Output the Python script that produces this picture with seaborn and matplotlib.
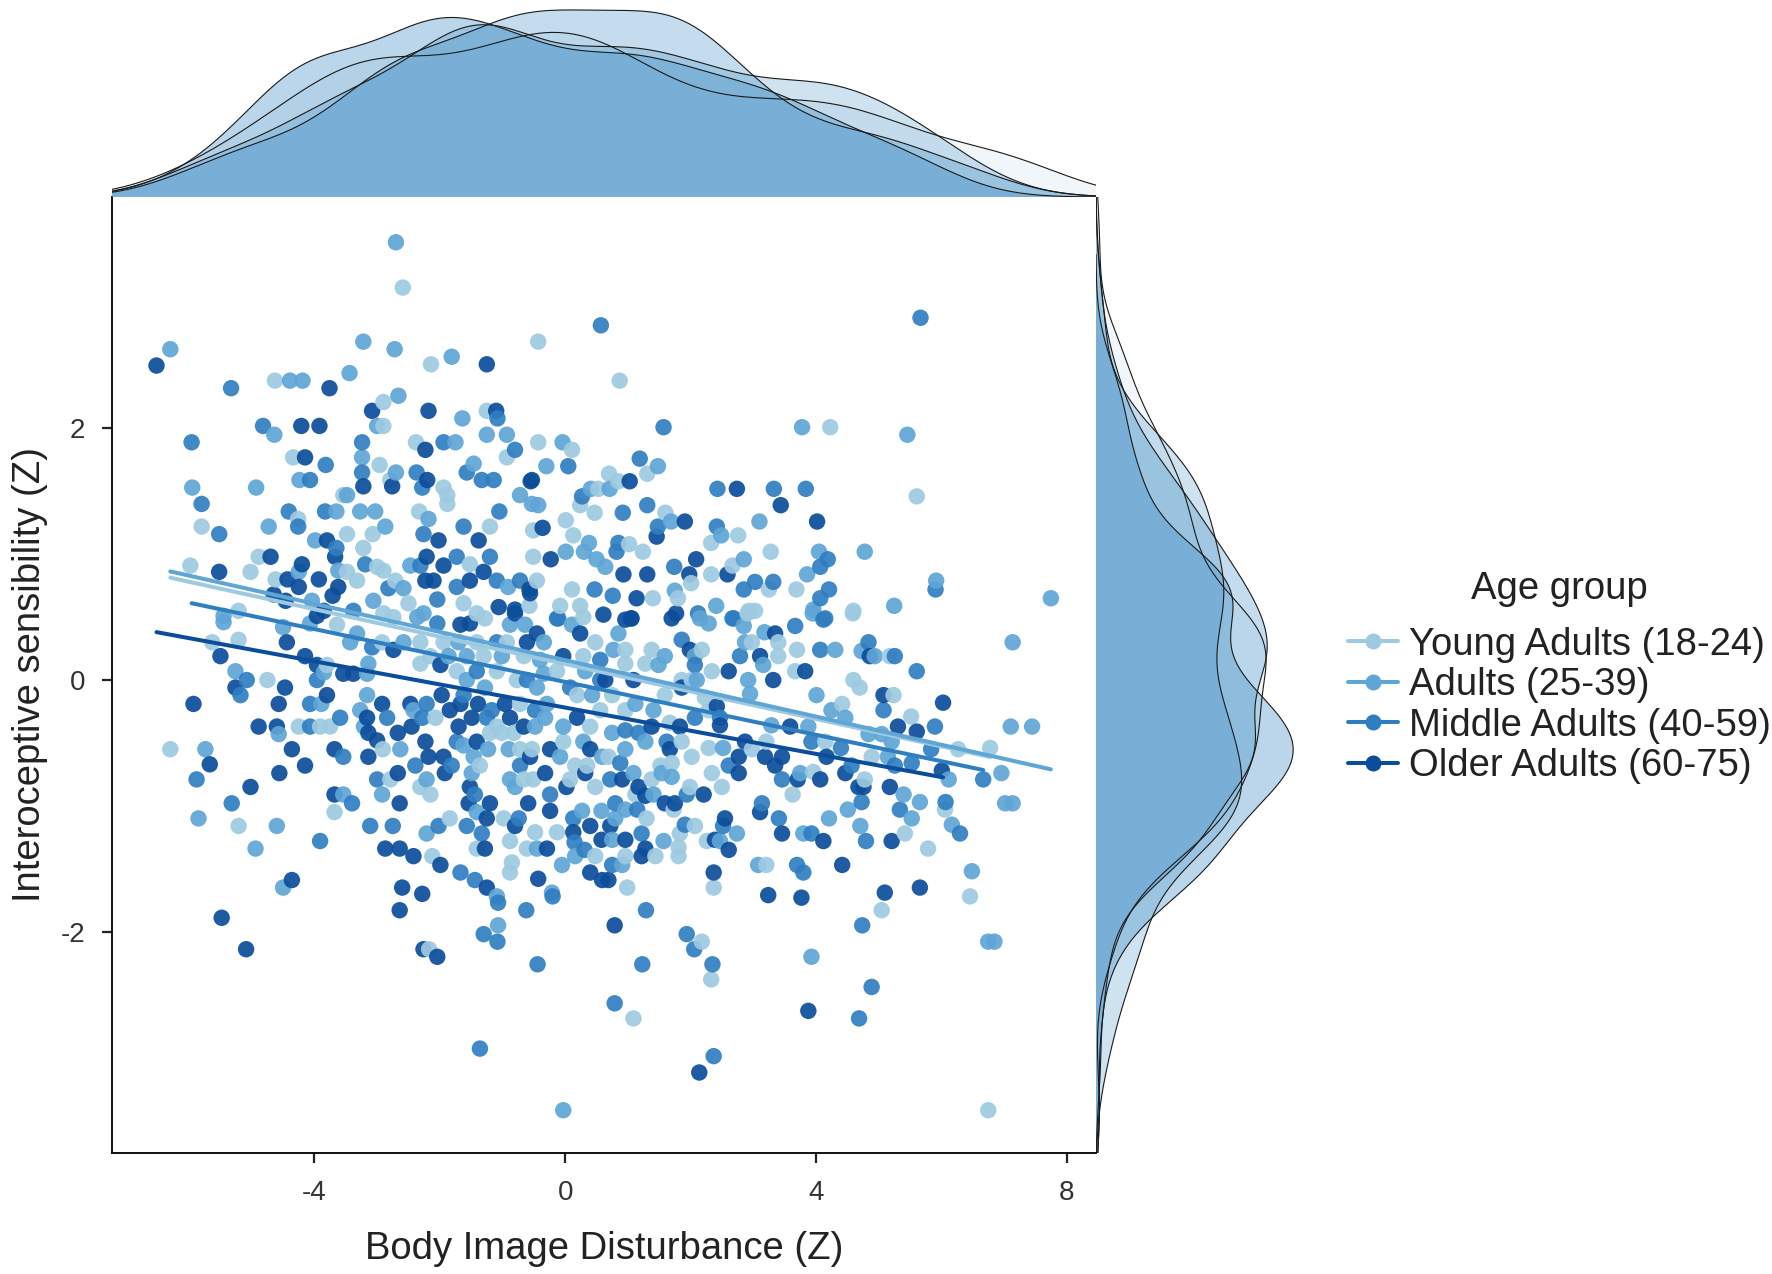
import numpy as np
import pandas as pd
import matplotlib
matplotlib.use("Agg")
import matplotlib.pyplot as plt
from matplotlib.lines import Line2D
from matplotlib.colors import to_rgba
import seaborn as sns

# ---------------- data ----------------
groups = ["Young Adults (18-24)", "Adults (25-39)",
          "Middle Adults (40-59)", "Older Adults (60-75)"]
point_colors = ["#9ecae1", "#5fa5d6", "#2f7ec1", "#0c4d9b"]

young_points = [
    (-2.59, 3.12), (-2.14, 2.51), (-0.43, 2.69), (-4.63, 2.38), (-2.90, 2.21), (-1.25, 2.14),
    (-2.90, 2.02), (-2.38, 1.89), (-0.93, 1.77), (-0.43, 1.89), (-4.34, 1.77), (-2.96, 1.71),
    (-2.79, 1.59), (-1.94, 1.53), (-3.54, 1.47), (-1.88, 1.47), (-1.88, 1.40), (-2.33, 1.34),
    (-5.80, 1.22), (-4.26, 1.28), (-3.48, 1.16), (-3.07, 1.16), (-1.20, 1.22), (-3.22, 1.05),
    (-5.98, 0.91), (-5.02, 0.86), (-4.89, 0.98), (-4.62, 0.80), (-3.48, 0.86), (-3.32, 0.79),
    (-3.00, 0.90), (-2.90, 0.87), (-2.71, 0.79), (-1.52, 0.92), (-0.51, 0.98), (-1.62, 0.61),
    (-1.41, 0.53), (-5.21, 0.55), (-2.90, 0.53), (-2.50, 0.61), (-0.45, 0.79), (-0.51, 1.19),
    (0.87, 2.38), (4.23, 2.01), (0.11, 1.83), (1.31, 1.64), (0.70, 1.64), (0.85, 1.58),
    (0.53, 1.52), (5.61, 1.46), (0.24, 1.39), (0.47, 1.33), (1.60, 1.33), (0.01, 1.27),
    (2.76, 1.15), (2.33, 1.09), (0.13, 1.15), (1.02, 1.08), (1.24, 1.02), (3.28, 1.02),
    (2.67, 0.91), (2.33, 0.84), (3.25, 0.72), (3.69, 0.72), (4.59, 0.53), (0.11, 0.72),
    (-0.57, 0.59), (-0.08, 0.59), (0.24, 0.59), (1.40, 0.65), (1.80, 0.65), (2.01, 0.77),
    (2.91, 0.53),
    (-6.30, -0.55), (-5.63, 0.30), (-5.21, 0.32), (-4.75, 0.00), (-4.25, -0.37), (-3.91, -0.37),
    (-3.75, -0.37), (-5.21, -1.16), (-3.68, -1.05), (-3.80, 0.12), (-3.64, 0.44), (-2.91, -0.55),
    (-2.79, -0.79), (-2.12, -1.40), (-1.84, -1.10), (-2.31, -0.85), (-2.15, -0.91), (-2.07, -0.30),
    (-1.36, -0.68), (-1.41, -1.34), (-0.98, -1.10), (-0.88, -1.28), (-0.85, -1.45), (-0.88, -1.53),
    (-0.61, -1.34), (-0.48, -1.21), (-0.13, -1.21), (0.48, -1.40), (-0.66, -0.79), (-0.51, -0.79),
    (0.08, -0.79), (0.48, -0.85), (-0.72, -0.55), (-0.53, -0.55), (0.16, -0.68), (0.35, -0.68),
    (-1.20, -0.42), (-1.01, -0.42), (-0.82, -0.42), (-1.09, -0.37), (-0.03, -0.49), (0.40, -0.37),
    (0.56, -0.24), (0.19, -0.12), (-0.72, -0.19), (-1.73, 0.07), (-1.09, 0.07), (-0.77, 0.00),
    (-0.13, 0.07), (-2.31, 0.13), (-2.15, 0.19), (-1.30, 0.19), (-0.66, 0.19), (0.29, 0.19),
    (-2.31, 0.30), (-1.94, 0.30), (-1.41, 0.30), (-0.93, 0.30), (0.48, 0.30), (-2.92, 0.30),
    (-2.74, 0.50), (-1.28, 0.49), (0.29, 0.50),
    (6.78, -0.54), (6.27, -0.55), (6.06, -1.03), (5.79, -1.34), (6.46, -1.72), (5.42, -1.22),
    (3.21, -1.47), (2.37, -1.65), (2.26, -1.28), (2.07, -1.16), (1.83, -1.22), (1.81, -1.33),
    (1.81, -1.40), (1.44, -1.40), (0.96, -1.40), (0.99, -1.65), (1.30, -1.10), (3.63, -0.91),
    (3.96, -0.73), (4.78, -0.79), (4.89, -0.61), (5.52, -0.29), (4.15, -0.49), (4.42, -0.19),
    (5.24, -0.12), (4.60, 0.00), (4.70, -0.06), (5.18, 0.19), (4.60, 0.55), (3.70, 0.24),
    (3.40, 0.19), (3.67, 0.07), (2.34, 0.07), (2.98, 0.30), (3.40, 0.30), (2.93, 0.55),
    (3.03, 0.55), (2.18, 0.24), (1.86, 0.00), (1.38, 0.24), (1.28, 0.13), (0.96, 0.24),
    (0.96, 0.13), (0.75, -0.12), (0.96, -0.24), (1.59, -0.12), (2.02, 0.00), (2.23, -0.14),
    (2.29, -0.24), (1.67, -0.34), (1.86, -0.49), (2.02, -0.61), (2.29, -0.54), (2.98, -0.55),
    (3.21, -0.49), (2.34, -0.74), (2.50, -0.85), (1.99, -0.85), (1.73, -1.03), (1.12, -0.91),
    (1.38, -0.79), (1.52, -0.68), (1.70, -0.66), (0.69, -0.61),
    (-2.17, -2.14), (5.05, -1.83), (2.18, -2.08), (2.33, -2.38), (1.09, -2.69), (6.75, -3.42),
]

adults_points = [
    (-2.70, 3.48), (-6.30, 2.63), (-3.22, 2.69), (-2.72, 2.63), (-1.81, 2.57), (-4.39, 2.38),
    (-4.19, 2.38), (-3.44, 2.44), (-2.66, 2.26), (-1.64, 2.08), (-4.64, 1.95), (-3.00, 2.02),
    (-1.25, 1.95), (-0.93, 1.95), (-1.75, 1.89), (-3.24, 1.77), (-2.70, 1.65), (-1.46, 1.72),
    (-5.95, 1.53), (-4.93, 1.53), (-4.24, 1.59), (-3.48, 1.47), (-0.72, 1.47), (-0.53, 1.40),
    (-3.65, 1.34), (-3.27, 1.34), (-3.03, 1.34), (-2.18, 1.28), (-4.73, 1.22), (-2.87, 1.22),
    (-3.99, 1.11),
    (-4.25, 0.86), (-3.62, 0.87), (-2.58, 0.73), (-2.47, 0.91), (-0.91, 0.74), (-2.26, 0.53),
    (-5.45, 0.51), (-4.04, 0.63), (-3.06, 0.63),
    (3.78, 2.01), (5.46, 1.95), (-0.04, 1.89), (-0.30, 1.70), (1.48, 1.70), (0.41, 1.52),
    (0.71, 1.52), (-0.43, 1.39), (1.69, 1.26), (3.10, 1.26), (2.49, 1.15), (0.38, 1.09),
    (4.05, 1.02), (4.78, 1.02), (0.01, 1.02), (0.30, 1.02), (0.50, 0.96), (0.64, 0.90),
    (2.85, 0.96), (3.86, 0.84), (5.92, 0.79), (5.25, 0.59), (7.75, 0.65), (1.75, 0.71),
    (2.41, 0.59), (3.95, 0.53),
    (-5.74, -0.55), (-5.45, 0.46), (-5.26, 0.07), (-4.50, 0.42), (-4.57, -0.43), (-5.85, -1.10),
    (-4.60, -1.16), (-4.94, -1.34), (-4.50, -1.65), (-3.54, -0.91), (-3.89, -0.19), (-3.85, 0.06),
    (-4.07, 0.45), (-3.16, 0.05), (-3.14, 0.13), (-3.43, 0.30), (-3.32, 0.37), (-3.16, -0.12),
    (-3.27, -0.24), (-3.21, -0.37), (-2.63, -0.55), (-2.92, -0.91), (-2.21, -1.22), (-2.21, -0.79),
    (-2.42, -0.24), (-1.62, -0.52), (-1.46, -0.61), (-1.49, -0.74), (-1.41, -1.05), (-1.09, -1.72),
    (-0.45, -1.34), (-0.21, -1.69), (-0.05, -1.47), (0.16, -1.40), (0.27, -1.04), (0.58, -1.04),
    (-0.88, -0.79), (-0.80, -0.85), (-0.90, -0.55), (-0.08, -0.61), (0.59, -0.61), (-1.23, -0.55),
    (-0.48, -0.37), (-0.32, -0.30), (-0.03, -0.37), (0.29, -0.49), (0.43, -0.12), (-0.29, -0.19),
    (-1.28, -0.06), (-1.57, 0.00), (-0.45, -0.06), (-0.34, 0.05), (0.32, 0.07), (-1.86, 0.19),
    (-1.57, 0.19), (-1.01, 0.19), (-0.40, 0.16), (-2.58, 0.30), (-1.70, 0.30), (-0.34, 0.30),
    (-2.36, 0.50), (-0.88, 0.44), (-0.64, 0.44), (0.11, 0.44),
    (7.14, 0.30), (7.11, -0.37), (7.45, -0.37), (6.96, -0.74), (6.12, -0.79), (7.02, -0.98),
    (7.14, -0.98), (6.17, -1.15), (6.49, -1.52), (5.53, -1.10), (5.40, -0.91), (5.66, -0.97),
    (4.51, -1.03), (4.71, -1.16), (4.21, -1.10), (3.80, -1.22), (3.08, -1.47), (2.74, -1.22),
    (2.47, -1.28), (1.57, -1.28), (0.91, -1.47), (0.75, -1.27), (0.80, -1.10), (3.75, -0.74),
    (5.15, -0.61), (5.05, -0.43), (4.84, -0.43), (5.21, -0.49), (3.88, -0.37), (4.47, -0.30),
    (4.25, -0.24), (4.01, -0.12), (4.73, 0.23), (4.94, 0.19), (4.31, 0.24), (3.96, 0.56),
    (2.92, 0.00), (2.10, 0.00), (2.95, -0.11), (3.16, 0.12), (2.87, 0.30), (3.18, 0.38),
    (2.85, 0.43), (2.15, 0.49), (2.29, 0.45), (2.07, 0.19), (1.59, 0.19), (1.49, 0.12),
    (0.85, 0.37), (0.77, 0.24), (1.12, -0.19), (1.41, -0.24), (0.75, -0.42), (1.28, -0.49),
    (2.52, -0.54), (3.29, -0.36), (1.70, -0.77), (1.54, -0.74), (1.41, -0.91), (1.09, -0.74),
    (0.96, -0.55), (0.96, -1.03),
    (-1.07, -1.95), (-0.03, -3.42), (3.93, -2.20), (6.75, -2.08), (6.85, -2.08),
]

middle_points = [
    (-5.33, 2.32), (-1.08, 2.08), (-4.82, 2.02), (-5.96, 1.89), (-3.24, 1.89), (-1.94, 1.89),
    (-0.80, 1.83), (-3.82, 1.71), (-3.24, 1.65), (-2.37, 1.65), (-1.57, 1.65), (-1.33, 1.59),
    (-1.14, 1.59), (-4.07, 1.59), (-2.28, 1.53), (-5.80, 1.40), (-4.41, 1.34), (-3.83, 1.34),
    (-1.05, 1.34), (-5.52, 1.16), (-4.26, 1.22), (-2.26, 1.16), (-1.62, 1.22), (-3.65, 1.05),
    (-3.19, 0.92), (-2.82, 0.73), (-2.31, 0.91), (-1.73, 0.98), (-1.73, 0.74), (-1.20, 0.98),
    (-1.09, 0.79), (-0.72, 0.79), (-2.04, 0.64), (-3.38, 0.55),
    (0.57, 2.82), (5.67, 2.88), (1.57, 2.01), (0.05, 1.70), (1.19, 1.76), (0.27, 1.46),
    (0.92, 1.33), (1.31, 1.39), (2.43, 1.52), (3.33, 1.52), (3.84, 1.52), (1.48, 1.22),
    (2.42, 1.22), (0.85, 1.09), (0.82, 1.02), (4.19, 0.96), (1.74, 0.90), (3.03, 0.78),
    (2.85, 0.72), (3.32, 0.78), (4.07, 0.90), (4.21, 0.72), (4.07, 0.65), (5.91, 0.72),
    (0.47, 0.72), (-0.11, 0.49), (0.76, 0.67), (2.12, 0.53), (2.67, 0.49), (4.12, 0.48),
    (-5.88, -0.79), (-5.08, 0.00), (-5.18, -0.12), (-4.07, -0.37), (-5.32, -0.98), (-3.91, -1.28),
    (-3.40, -0.98), (-3.54, -0.61), (-3.59, -0.30), (-4.07, -0.19), (-3.96, 0.00), (-2.84, -0.30),
    (-3.00, -0.79), (-3.11, -1.16), (-2.75, -1.16), (-2.02, -1.16), (-2.39, -0.68), (-1.81, -0.68),
    (-2.28, -0.30), (-2.21, -0.19), (-1.73, -0.49), (-1.44, -0.91), (-1.57, -1.16), (-1.33, -1.22),
    (-1.67, -1.53), (-1.44, -1.59), (-0.74, -1.10), (0.13, -1.10), (0.15, -1.29), (0.31, -1.35),
    (-0.24, -0.91), (-0.72, -0.68), (-1.25, -0.30), (-0.48, -0.24), (-1.17, -0.24), (-1.62, -0.12),
    (0.08, -0.06), (-1.41, 0.07), (-0.61, 0.00), (0.56, 0.00), (0.56, 0.16), (-1.09, 0.30),
    (-3.08, 0.26), (-2.04, 0.45), (-0.13, 0.49),
    (5.61, 0.07), (5.90, -0.37), (5.84, -0.55), (6.67, -0.79), (6.07, -0.97), (6.30, -1.22),
    (5.34, -1.03), (4.73, -0.97), (4.80, -1.28), (3.93, -1.22), (3.41, -1.10), (3.70, -1.47),
    (3.80, -1.53), (2.52, -1.16), (1.91, -1.15), (0.75, -1.47), (1.15, -1.03), (1.22, -1.22),
    (3.14, -0.98), (3.46, -0.79), (4.57, -0.68), (5.26, -0.68), (5.53, -0.66), (4.40, -0.54),
    (3.93, -0.49), (5.08, -0.24), (4.84, 0.30), (5.26, 0.19), (4.07, 0.24), (4.15, 0.49),
    (3.67, 0.43), (2.79, 0.19), (2.69, 0.49), (1.86, 0.32), (2.07, 0.12), (2.47, -0.30),
    (2.07, -0.30), (1.17, -0.42), (0.96, -0.40), (1.62, -0.49), (2.61, -0.68), (1.94, -0.91),
    (0.88, -0.66), (0.72, -0.79), (0.80, -0.98),
    (-1.07, -1.77), (-0.62, -1.83), (-0.20, -1.72), (-1.30, -2.02), (-1.08, -2.08), (-0.44, -2.26),
    (-1.36, -2.93), (1.29, -1.83), (1.94, -2.02), (2.06, -2.14), (1.23, -2.26), (2.35, -2.26),
    (4.74, -1.95), (4.89, -2.44), (0.79, -2.57), (4.69, -2.69), (2.37, -2.99),
]

older_points = [
    (-6.52, 2.50), (-1.25, 2.51), (-3.76, 2.32), (-3.08, 2.14), (-2.18, 2.14), (-1.10, 2.14),
    (-4.21, 2.02), (-3.92, 2.02), (-2.23, 1.83), (-4.15, 1.77), (-2.20, 1.59), (-0.53, 1.59),
    (-3.22, 1.54), (-2.76, 1.54), (-2.02, 1.11), (-1.38, 1.11), (-3.80, 1.11),
    (-5.52, 0.86), (-4.70, 0.98), (-4.43, 0.80), (-4.20, 0.92), (-3.93, 0.80), (-4.25, 0.74),
    (-3.67, 0.98), (-3.62, 0.74), (-3.71, 0.67), (-2.21, 0.98), (-2.23, 0.79), (-2.10, 0.79),
    (-1.94, 0.91), (-1.30, 0.86), (-1.52, 0.79), (-0.56, 0.69), (-0.80, 0.56), (-1.06, 0.58),
    (-4.65, 0.68), (-4.46, 0.63), (-3.85, 0.55),
    (1.03, 1.58), (-0.55, 1.58), (2.74, 1.52), (3.44, 1.39), (-0.36, 1.21), (1.46, 1.14),
    (1.91, 1.26), (4.02, 1.26), (-0.23, 0.96), (2.09, 0.96), (1.98, 0.84), (1.31, 0.84),
    (0.93, 0.84), (2.59, 0.84), (-0.57, 0.72), (1.14, 0.65), (0.61, 0.52), (1.05, 0.49),
    (1.77, 0.53),
    (-5.67, -0.67), (-5.93, -0.19), (-5.50, 0.19), (-5.26, -0.06), (-4.47, -0.06), (-4.57, -0.19),
    (-4.44, 0.30), (-4.89, -0.37), (-4.60, -0.37), (-4.36, -0.55), (-4.15, -0.68), (-4.56, -0.74),
    (-5.02, -0.85), (-4.36, -1.59), (-3.68, -0.91), (-3.68, -0.55), (-3.14, -0.61), (-3.80, -0.12),
    (-4.15, 0.19), (-3.96, 0.12), (-3.96, 0.51), (-3.54, 0.05), (-3.38, 0.05), (-3.16, -0.30),
    (-3.14, -0.42), (-3.00, -0.48), (-2.92, -0.19), (-2.67, -0.42), (-2.67, -0.74), (-2.64, -0.98),
    (-2.87, -1.34), (-2.64, -1.34), (-2.42, -1.40), (-2.60, -1.65), (-2.28, -1.70), (-1.99, -1.47),
    (-1.92, -0.74), (-2.18, -0.61), (-1.94, -0.61), (-2.23, -0.49), (-2.45, -0.37), (-2.47, -0.19),
    (-1.97, -0.12), (-1.84, -0.24), (-1.70, -0.37), (-1.52, -0.85), (-1.54, -0.98), (-1.20, -0.98),
    (-1.25, -1.10), (-1.28, -1.34), (-1.25, -1.65), (-0.80, -1.16), (-0.29, -1.34), (-0.43, -1.58),
    (0.40, -1.53), (0.59, -1.59), (0.13, -1.21), (0.40, -1.16), (0.58, -1.27), (-0.59, -0.98),
    (-0.24, -1.04), (-0.32, -0.74), (0.02, -0.85), (0.32, -0.74), (-0.56, -0.61), (-0.24, -0.55),
    (0.40, -0.55), (-1.41, -0.49), (-0.66, -0.37), (-1.49, -0.30), (-0.88, -0.30), (0.19, -0.30),
    (-0.96, -0.19), (-1.39, -0.19), (-1.67, -0.19), (-1.99, 0.12), (-0.03, 0.19), (-2.74, 0.24),
    (-0.61, 0.30), (0.24, 0.37), (-1.67, 0.44), (-1.52, 0.45), (-0.45, 0.37), (-0.80, 0.53),
    (6.03, -0.18), (6.01, -0.72), (5.66, -1.65), (5.10, -1.69), (5.21, -1.28), (5.18, -0.85),
    (4.76, -0.85), (4.42, -1.47), (4.12, -1.28), (3.46, -1.22), (3.24, -1.71), (3.77, -1.73),
    (2.37, -1.53), (2.55, -1.10), (2.39, -1.27), (2.61, -1.35), (1.28, -1.34), (1.22, -1.40),
    (0.69, -1.59), (0.96, -1.27), (0.72, -1.16), (3.11, -1.05), (3.71, -0.79), (4.07, -0.79),
    (4.47, -0.74), (4.68, -0.85), (5.31, -0.37), (5.61, -0.41), (4.17, -0.61), (5.08, -0.12),
    (4.86, 0.19), (3.83, 0.07), (3.32, 0.00), (2.61, 0.07), (3.11, 0.19), (3.35, 0.37),
    (1.70, 0.49), (1.99, 0.24), (0.96, 0.48), (1.06, 0.49), (1.09, 0.00), (0.64, 0.00),
    (1.86, -0.06), (2.42, -0.21), (2.47, -0.36), (1.83, -0.37), (1.38, -0.37), (1.67, -0.55),
    (2.87, -0.49), (2.77, -0.61), (3.59, -0.37), (3.19, -0.61), (3.46, -0.61), (3.35, -0.68),
    (2.77, -0.74), (2.21, -0.91), (1.75, -0.98), (1.59, -0.98), (1.17, -0.85), (1.28, -0.92),
    (0.91, -0.79),
    (-5.48, -1.89), (-5.09, -2.14), (-2.64, -1.83), (-2.26, -2.14), (-2.04, -2.20),
    (0.79, -1.95), (3.88, -2.63), (2.14, -3.12),
]

# linear fits per group (intercept, slope)
fit_intercept = [0.127, 0.158, -0.015, -0.219]
fit_slope = [-0.109, -0.112, -0.105, -0.092]

x_ticks = [-4, 0, 4, 8]
y_ticks = [-2, 0, 2]

# ---------------- build tables ----------------
frames = []
for name, pts in zip(groups, [young_points, adults_points, middle_points, older_points]):
    arr = np.array(pts)
    frames.append(pd.DataFrame({"x": arr[:, 0], "y": arr[:, 1], "group": name}))
df = pd.concat(frames, ignore_index=True)
df_draw = df.sort_values("x", kind="mergesort")  # interleave colours by position

# ---------------- style ----------------
sns.set_theme(style="white", rc={
    "axes.spines.top": False, "axes.spines.right": False,
    "axes.edgecolor": "#111111", "axes.linewidth": 1.4,
    "xtick.bottom": True, "ytick.left": True,
    "xtick.top": False, "ytick.right": False,
    "xtick.direction": "out", "ytick.direction": "out",
    "xtick.major.size": 7.2, "ytick.major.size": 7.2,
    "xtick.major.width": 1.6, "ytick.major.width": 1.6,
    "xtick.major.pad": 12, "ytick.major.pad": 12,
    "xtick.color": "#222222", "ytick.color": "#222222",
    "xtick.labelcolor": "#333333", "ytick.labelcolor": "#333333",
    "xtick.labelsize": 20, "ytick.labelsize": 20,
})
plt.rcParams["font.family"] = ["Liberation Sans", "DejaVu Sans"]
plt.rcParams["axes.unicode_minus"] = False

W, H = 1772, 1274
fig = plt.figure(figsize=(W / 100, H / 100), dpi=100)

L, R, T, B = 112, 1096, 197, 1153
ax = fig.add_axes([L / W, 1 - B / H, (R - L) / W, (B - T) / H])
ax_top = fig.add_axes([L / W, 1 - T / H, (R - L) / W, T / H - 0.002])
ax_right = fig.add_axes([R / W, 1 - B / H, 205 / W, (B - T) / H])

sns.scatterplot(data=df_draw, x="x", y="y", hue="group", hue_order=groups,
                palette=point_colors, s=140, alpha=0.92, linewidth=0,
                legend=False, ax=ax, zorder=2)
for name, c, a, b in zip(groups, point_colors, fit_intercept, fit_slope):
    sub = df[df["group"] == name]
    xs = np.array([sub["x"].min(), sub["x"].max()])
    sns.lineplot(x=xs, y=a + b * xs, color=c, linewidth=2.9, ax=ax, zorder=3)

ax.set_xlim(-7.23, 8.47)
ax.set_ylim(-3.76, 3.84)
ax.set_xticks(x_ticks)
ax.set_yticks(y_ticks)
ax.set_xlabel("Body Image Disturbance (Z)", fontsize=27.5, color="#222222", labelpad=18)
ax.set_ylabel("Interoceptive sensibility (Z)", fontsize=27.5, color="#222222", labelpad=9)

# ---------------- marginal densities ----------------
fill_base = "#3d8cc4"
fill_alpha = [0.30, 0.07, 0.25, 0.35]
edge = (0.1, 0.1, 0.1, 0.8)
for name, a in zip(groups, fill_alpha):
    sub = df[df["group"] == name]
    sns.kdeplot(x=sub["x"].to_numpy(), ax=ax_top, fill=True, bw_adjust=0.8, cut=3,
                facecolor=to_rgba(fill_base, a), edgecolor="none", linewidth=0)
    sns.kdeplot(x=sub["x"].to_numpy(), ax=ax_top, fill=False, bw_adjust=0.8, cut=3,
                color=edge, linewidth=0.8)
    sns.kdeplot(y=sub["y"].to_numpy(), ax=ax_right, fill=True, bw_adjust=0.8, cut=3,
                facecolor=to_rgba(fill_base, a), edgecolor="none", linewidth=0)
    sns.kdeplot(y=sub["y"].to_numpy(), ax=ax_right, fill=False, bw_adjust=0.8, cut=3,
                color=edge, linewidth=0.8)

ax_top.set_xlim(ax.get_xlim())
ax_top.set_ylim(0, ax_top.get_ylim()[1] * 0.99)
ax_top.set_axis_off()
ax_right.set_ylim(ax.get_ylim())
ax_right.set_xlim(0, ax_right.get_xlim()[1] * 0.99)
ax_right.set_axis_off()

# ---------------- legend ----------------
handles = [Line2D([0], [0], color=c, lw=2.9, marker="o", markersize=11.5,
                  markeredgewidth=0) for c in point_colors]
leg = fig.legend(handles, groups, title="Age group", loc="center",
                 bbox_to_anchor=(0.880, 0.468), frameon=False, fontsize=27.5,
                 title_fontsize=27.5, handlelength=1.3, handletextpad=0.3,
                 labelspacing=0.12)
leg._legend_box.sep = 14
for t in leg.get_texts():
    t.set_color("#222222")
leg.get_title().set_color("#222222")

fig.savefig("out.png", dpi=100)
